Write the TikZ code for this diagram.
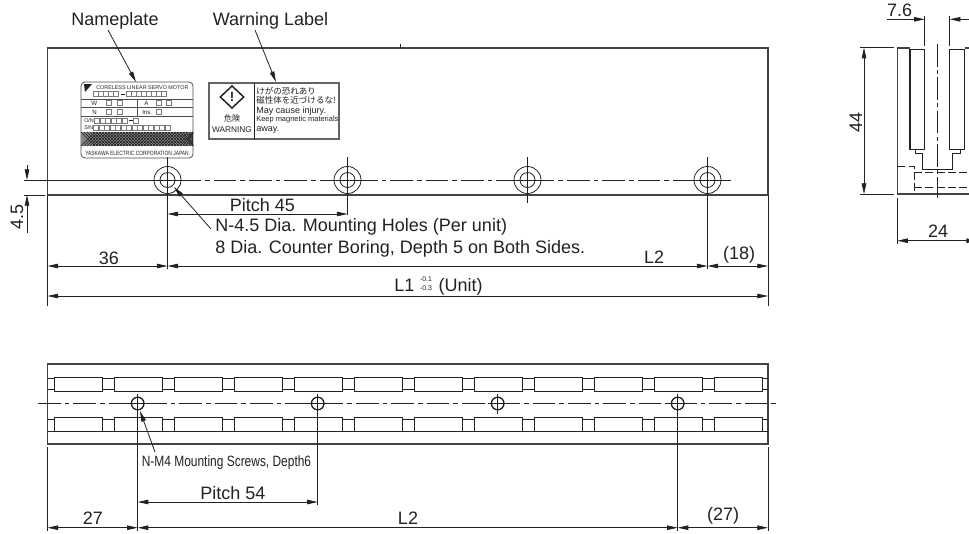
\documentclass[tikz,border=0pt]{standalone}
\usepackage{fontspec}
\setmainfont{Liberation Sans}
\newfontfamily\jpfont{Noto Sans CJK JP}
\usetikzlibrary{arrows.meta,patterns,shapes.geometric}
\definecolor{ink}{HTML}{222222}
\tikzset{
  thin line/.style={draw=ink,line width=0.6pt},
  body line/.style={draw=ink!85,line width=0.9pt},
  center line/.style={draw=ink,line width=0.6pt,dash pattern=on 17pt off 3pt on 3.5pt off 3pt},
  hidden line/.style={draw=ink,line width=0.6pt,dash pattern=on 6pt off 2.5pt},
  dim/.style={draw=ink,line width=0.6pt,{Triangle[length=8pt,width=3.4pt]}-{Triangle[length=8pt,width=3.4pt]}},
  dim end/.style={draw=ink,line width=0.6pt,-{Triangle[length=8pt,width=3.4pt]}},
  label text/.style={text=ink,font=\fontsize{13.5pt}{16.3pt}\selectfont,inner sep=0pt,align=left},
  tol text/.style={text=ink,inner sep=0pt,font=\fontsize{5.2pt}{5.2pt}\selectfont},
  plate text/.style={text=ink,font=\fontsize{4.05pt}{4.6pt}\selectfont,inner sep=0pt,anchor=west},
  plate big/.style={plate text,font=\fontsize{4.6pt}{5pt}\selectfont},
  warn text/.style={text=ink,font=\fontsize{6.8pt}{7.5pt}\selectfont,inner sep=0pt,anchor=west},
  warn jp/.style={warn text,font=\jpfont\fontsize{6.4pt}{7pt}\selectfont},
  tinybox/.style={draw=ink!60,line width=0.25pt,minimum width=3.8pt,minimum height=3.8pt,inner sep=0pt},
}
\newcommand{\tophole}[1]{%
  \draw[thin line] (#1,180) circle (13.5);
  \draw[thin line] (#1,180) circle (7.5);
  \draw[thin line] (#1-15,180) -- (#1+23,180);
  \draw[thin line] (#1,157) -- (#1,203);}
\newcommand{\bothole}[1]{%
  \draw[draw=ink,line width=1pt] (#1,403.5) circle (6.3);
  \draw[thin line] (#1-10,403.5) -- (#1+10,403.5);
  \draw[thin line] (#1,394) -- (#1,414);}
\begin{document}
\begin{tikzpicture}[x=0.75pt,y=-0.75pt]
\useasboundingbox[clip] (0,0) rectangle (969,533);
\fill[white] (0,0) rectangle (969,533);
% ---------- top view
\draw[body line] (47.5,48) rectangle (768,195);
\draw[thin line] (400,44) -- (400,48);
\draw[thin line] (24,195) -- (45,195);
\draw[thin line] (24,180) -- (143,180);
\draw[center line] (143,180) -- (730,180);
\tophole{167.5}\tophole{347.5}\tophole{527.5}\tophole{707.5}
\draw[thin line] (167.5,195) -- (167.5,269);
\draw[thin line] (347.5,195) -- (347.5,215);
\draw[thin line] (707.5,195) -- (707.5,269);
\draw[thin line] (47.5,195) -- (47.5,306);
\draw[thin line] (768,195) -- (768,306);
% dimensions top view
\draw[dim end] (27,165) -- (27,180);
\draw[dim end] (27,233) -- (27,195);
\node[label text,rotate=90] (d45) at (17,217) {4.5};
\draw[dim] (167.5,214) -- (347.5,214);
\node[label text] (dpitch45) at (262.5,205) {Pitch 45};
\draw[dim] (47.5,266) -- (167.5,266);
\node[label text] (d36) at (109,258) {36};
\draw[dim] (167.5,266) -- (707.5,266);
\node[label text] (dl2a) at (654,257) {L2};
\draw[dim] (707.5,266) -- (768,266);
\node[label text] (d18) at (739,255) {(18)};
\draw[dim] (47.5,296) -- (768,296);
\node[label text,anchor=base west] (dl1) at (394,291) {L1};
\node[tol text] (dtolup) at (426,279) {-0.1};
\node[tol text] (dtoldn) at (426,288.5) {-0.3};
\node[label text,anchor=base east] (dunit) at (483,291) {(Unit)};
\node[label text,anchor=base west] (holes1) at (215,231.5) {N-4.5 Dia. Mounting Holes (Per unit)};
\node[label text,anchor=base west] (holes2) at (215,253) {8 Dia. Counter Boring, Depth 5 on Both Sides.};
\coordinate (holetip) at (174,187);
\draw[dim end] (211,229) -- (holetip);
% leaders
\node[label text] (nameplate) at (115,21) {Nameplate};
\node[label text] (warning) at (270.5,21) {Warning Label};
\coordinate (ntip) at (136,82);
\coordinate (wtip) at (276,82);
\draw[dim end] (108,30) -- (ntip);
\draw[dim end] (255,30) -- (wtip);
% ---------- nameplate
\draw[draw=ink!80,line width=0.6pt,rounded corners=3] (81,82) rectangle (193,158);
\fill[ink] (84,84) -- (92,84) -- (85,92) -- cycle;
\node[plate text] (p1) at (96,87.5) {CORELESS LINEAR SERVO MOTOR};
\foreach \x in {96,101,106,111,116} \node[tinybox] at (\x,94) {};
\draw[ink,line width=0.5pt] (121,94) -- (125,94);
\foreach \x in {129,134,139,144,149,154,159,164} \node[tinybox] at (\x,94) {};
\draw[ink!80,line width=0.4pt] (81,99) -- (193,99) (81,107.5) -- (193,107.5) (81,116.5) -- (193,116.5) (137,99) -- (137,116.5);
\node[plate big] (p2) at (91,103.5) {W};
\node[tinybox] at (109,103) {}; \node[tinybox] at (120,103) {};
\node[plate big] (p3) at (144,103) {A};
\node[tinybox] at (159,103) {}; \node[tinybox] at (169,103) {};
\node[plate big] (p4) at (92,112) {N};
\node[tinybox] at (109,112) {}; \node[tinybox] at (120,112) {};
\node[plate big] (p5) at (142,112) {Ins.};
\node[tinybox] at (159,112) {};
\node[plate text] (p6) at (84,121) {O/N};
\foreach \x in {97,102.5,108,113.5,119,124.5} \node[tinybox] at (\x,121) {};
\draw[ink,line width=0.5pt] (129,120.5) -- (133,120.5);
\node[tinybox] at (136,121) {};
\node[plate text] (p7) at (84,128) {S/N};
\foreach \x in {96,101.5,...,172} \node[tinybox] at (\x,127.5) {};
\fill[ink!55] (81,132) rectangle (193,146);
\foreach \x in {81,84,...,192} {\draw[ink,line width=0.35pt] (\x,132) -- ({min(\x+14,193)},146); \draw[ink,line width=0.35pt] ({min(\x+14,193)},132) -- (\x,146);}
\node[plate big] (p8) at (85,153.5) {\scalebox{0.8}[1]{YASKAWA ELECTRIC CORPORATION JAPAN}};
% ---------- warning label
\draw[draw=ink!70,line width=1.4pt] (209,83) rectangle (339,139);
\draw[draw=ink,line width=0.5pt] (254,83) -- (254,139);
\node[diamond,draw=ink,line width=1.1pt,minimum width=18pt,minimum height=17pt,inner sep=0pt] (wsign) at (232,97) {};
\node[text=ink,inner sep=0pt,font=\fontsize{10pt}{10pt}\bfseries\selectfont] (wexcl) at (232,97) {!};
\node[text=ink,inner sep=0pt,font=\jpfont\fontsize{6pt}{7pt}\selectfont] (wkiken) at (232,118) {危険};
\node[text=ink,inner sep=0pt,font=\fontsize{6.2pt}{7pt}\selectfont] (wwarn) at (232,130) {WARNING};
\node[warn jp] (w1) at (256,91) {けがの恐れあり};
\node[warn jp] (w2) at (256,100.7) {磁性体を近づけるな!};
\node[warn text] (w3) at (256,110.7) {May cause injury.};
\node[warn text,font=\fontsize{5.6pt}{7pt}\selectfont] (w4) at (256,120) {Keep magnetic materials};
\node[warn text] (w5) at (256,130) {away.};
% ---------- bottom view
\draw[body line] (47.5,364) rectangle (768,444);
\foreach \x in {54,114,...,714} {
  \draw[thin line] (\x,377) rectangle (\x+48,391);
  \draw[thin line] (\x,417) rectangle (\x+48,431);
}
\foreach \x in {102,162,...,642} {
  \draw[thin line] (\x,378) -- (\x+12,378) (\x,389) -- (\x+12,389);
  \draw[thin line] (\x,419) -- (\x+12,419) (\x,431) -- (\x+12,431);
}
\draw[thin line] (47.5,378) -- (54,378) (47.5,389) -- (54,389) (47.5,419) -- (54,419) (47.5,431) -- (54,431);
\draw[thin line] (762,378) -- (768,378) (762,389) -- (768,389) (762,419) -- (768,419) (762,431) -- (768,431);
\draw[thin line] (702,378) -- (714,378) (702,389) -- (714,389) (702,419) -- (714,419) (702,431) -- (714,431);
\draw[center line] (38,403.5) -- (778,403.5);
\bothole{137.7}\bothole{317.7}\bothole{497.7}\bothole{677.7}
\draw[thin line] (137.7,414) -- (137.7,531);
\draw[thin line] (317.7,414) -- (317.7,505);
\draw[thin line] (677.7,414) -- (677.7,531);
\draw[thin line] (47.5,447) -- (47.5,531);
\draw[thin line] (768,447) -- (768,531);
\node[label text,font=\fontsize{11.2pt}{13pt}\selectfont] (mscrew) at (226.5,463) {\scalebox{0.8}[1]{N-M4 Mounting Screws, Depth6}};
\coordinate (stip) at (140,411);
\draw[dim end] (155,452) -- (stip);
\draw[dim] (137.7,502) -- (317.7,502);
\node[label text] (dpitch54) at (233,493) {Pitch 54};
\draw[dim] (47.5,527.7) -- (137.7,527.7);
\node[label text] (d27) at (93,518) {27};
\draw[dim] (137.7,527.7) -- (677.7,527.7);
\node[label text] (dl2b) at (408,518) {L2};
\draw[dim] (677.7,527.7) -- (768,527.7);
\node[label text] (d27b) at (723,516) {(27)};
% ---------- side view
\draw[body line] (910,48) -- (897.3,48) -- (897.3,194) -- (977,194);
\draw[body line] (964.7,48) -- (977,48);
\draw[thin line,line width=0.8pt] (910,149.3) -- (910,49.3) -- (924.7,49.3) -- (924.7,149.3) -- cycle;
\draw[thin line,line width=0.8pt] (949.7,149.3) -- (949.7,49.3) -- (964.7,49.3) -- (964.7,149.3) -- cycle;
\draw[thin line] (915,149.3) -- (915,153.3) -- (922.3,153.3) -- (922.3,169.3) -- (952.3,169.3) -- (952.3,153.3) -- (960,153.3) -- (960,149.3);
\draw[hidden line] (897.3,166) -- (914,166) -- (914,194);
\draw[hidden line] (914,172) -- (969,172);
\draw[hidden line] (914,187) -- (969,187);
\draw[center line,dash pattern=on 17pt off 2.5pt on 3pt off 2.5pt] (937.3,44) -- (937.3,198);
\draw[thin line] (924.7,16) -- (924.7,46);
\draw[thin line] (949.7,16) -- (949.7,46);
\draw[dim end] (887,19.3) -- (924.7,19.3);
\draw[dim end] (969,19.3) -- (949.7,19.3);
\node[label text] (d76) at (899.5,10.5) {7.6};
\draw[thin line] (860,47.7) -- (894,47.7);
\draw[thin line] (860,194) -- (894,194);
\draw[dim] (864,47.7) -- (864,194);
\node[label text,rotate=90] (d44) at (856,122) {44};
\draw[thin line] (897.3,198) -- (897.3,244);
\draw[dim] (897.3,240.7) -- (977,240.7);
\node[label text] (d24) at (938,231) {24};
\end{tikzpicture}
\end{document}
